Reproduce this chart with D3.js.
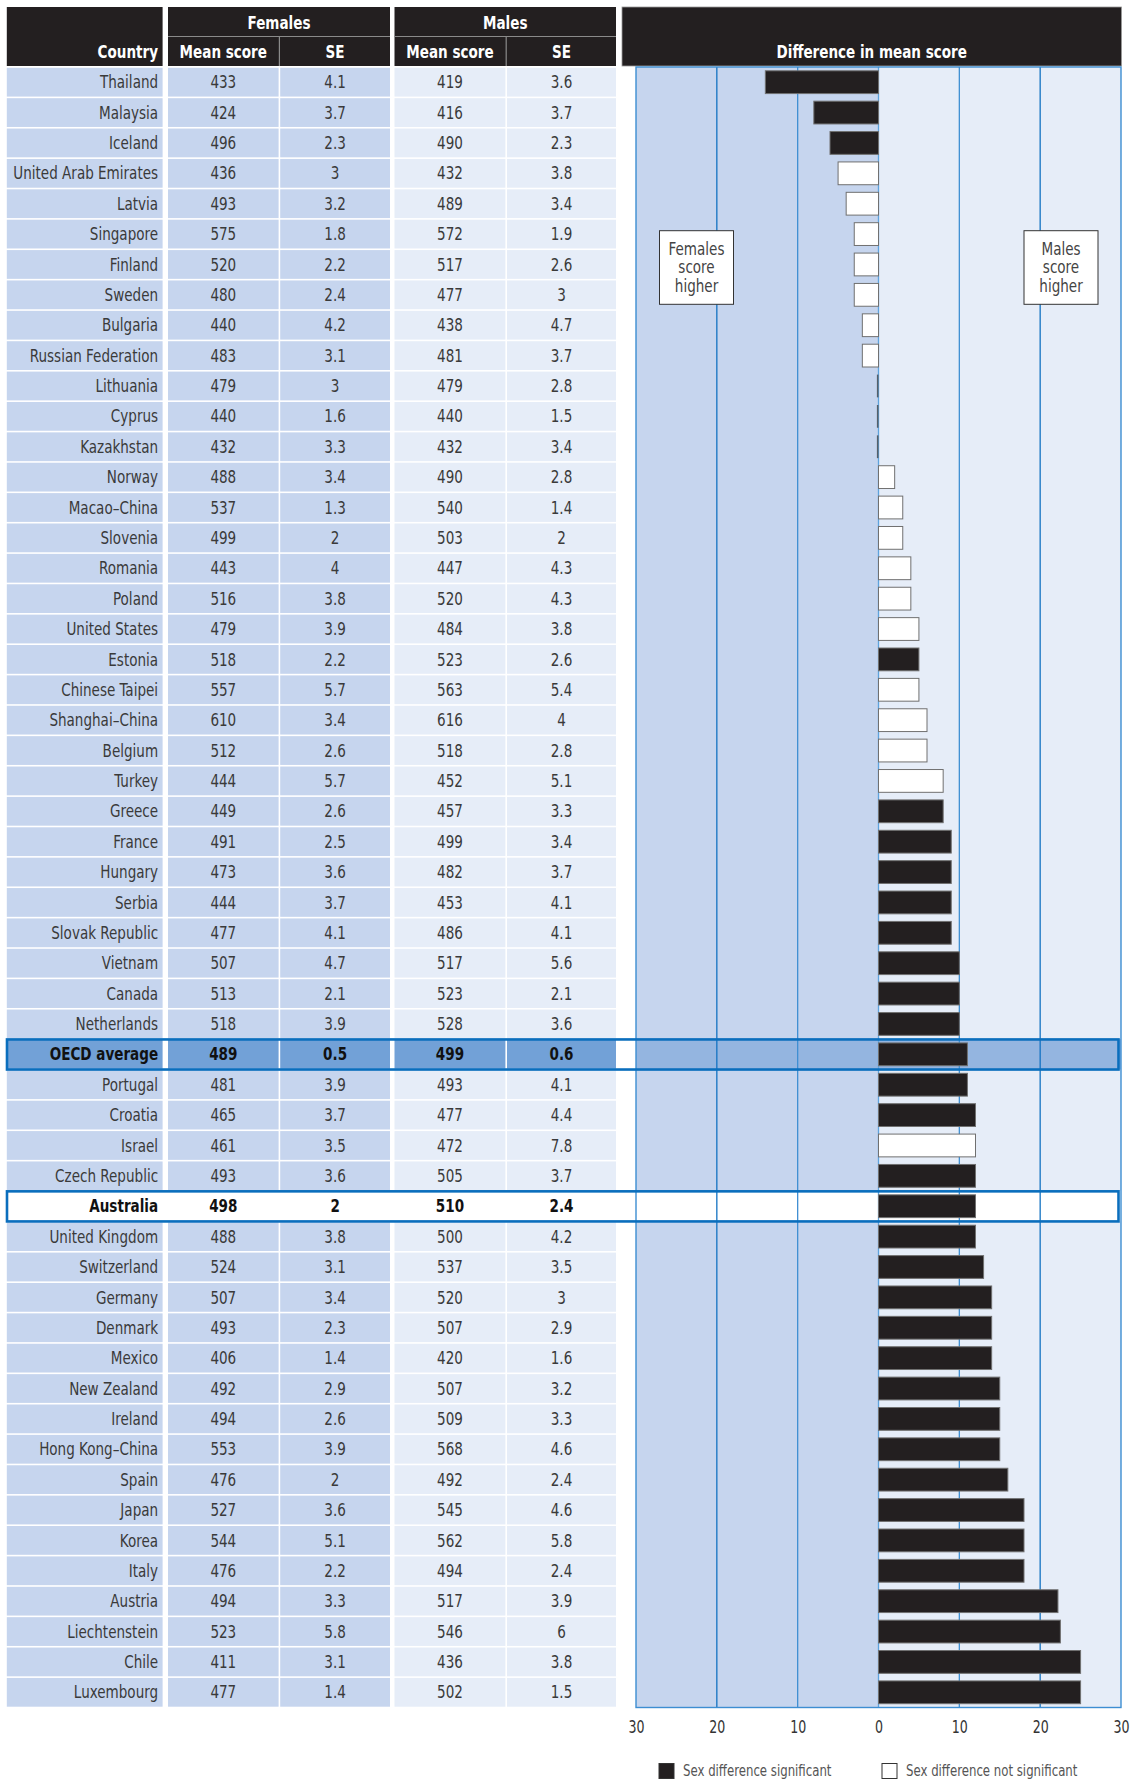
<!DOCTYPE html>
<html>
<head>
<meta charset="utf-8">
<script src="https://cdn.jsdelivr.net/npm/d3@7"></script>
<style>
  html, body { margin: 0; padding: 0; background: #ffffff; }
  svg { display: block; }
  text { font-family: "DejaVu Sans Condensed", "DejaVu Sans", sans-serif; }
</style>
</head>
<body>
<svg id="chart" width="1130" height="1782"></svg>
<script>
// ---------------- DATA ----------------
const countries = ["Thailand","Malaysia","Iceland","United Arab Emirates","Latvia","Singapore","Finland","Sweden","Bulgaria","Russian Federation","Lithuania","Cyprus","Kazakhstan","Norway","Macao\u2013China","Slovenia","Romania","Poland","United States","Estonia","Chinese Taipei","Shanghai\u2013China","Belgium","Turkey","Greece","France","Hungary","Serbia","Slovak Republic","Vietnam","Canada","Netherlands","OECD average","Portugal","Croatia","Israel","Czech Republic","Australia","United Kingdom","Switzerland","Germany","Denmark","Mexico","New Zealand","Ireland","Hong Kong\u2013China","Spain","Japan","Korea","Italy","Austria","Liechtenstein","Chile","Luxembourg"];
const femaleMean = [433,424,496,436,493,575,520,480,440,483,479,440,432,488,537,499,443,516,479,518,557,610,512,444,449,491,473,444,477,507,513,518,489,481,465,461,493,498,488,524,507,493,406,492,494,553,476,527,544,476,494,523,411,477];
const femaleSE   = ["4.1","3.7","2.3","3","3.2","1.8","2.2","2.4","4.2","3.1","3","1.6","3.3","3.4","1.3","2","4","3.8","3.9","2.2","5.7","3.4","2.6","5.7","2.6","2.5","3.6","3.7","4.1","4.7","2.1","3.9","0.5","3.9","3.7","3.5","3.6","2","3.8","3.1","3.4","2.3","1.4","2.9","2.6","3.9","2","3.6","5.1","2.2","3.3","5.8","3.1","1.4"];
const maleMean   = [419,416,490,432,489,572,517,477,438,481,479,440,432,490,540,503,447,520,484,523,563,616,518,452,457,499,482,453,486,517,523,528,499,493,477,472,505,510,500,537,520,507,420,507,509,568,492,545,562,494,517,546,436,502];
const maleSE     = ["3.6","3.7","2.3","3.8","3.4","1.9","2.6","3","4.7","3.7","2.8","1.5","3.4","2.8","1.4","2","4.3","4.3","3.8","2.6","5.4","4","2.8","5.1","3.3","3.4","3.7","4.1","4.1","5.6","2.1","3.6","0.6","4.1","4.4","7.8","3.7","2.4","4.2","3.5","3","2.9","1.6","3.2","3.3","4.6","2.4","4.6","5.8","2.4","3.9","6","3.8","1.5"];
// difference in mean score (males minus females)
const difference = [-14,-8,-6,-5,-4,-3,-3,-3,-2,-2,0,0,0,2,3,3,4,4,5,5,5,6,6,8,8,9,9,9,9,10,10,10,11,11,12,12,12,12,12,13,14,14,14,15,15,15,16,18,18,18,22.2,22.5,25,25];
// 1 = sex difference significant, 0 = not significant
const significant = [1,1,1,0,0,0,0,0,0,0,0,0,0,0,0,0,0,0,0,1,0,0,0,0,1,1,1,1,1,1,1,1,1,1,1,0,1,1,1,1,1,1,1,1,1,1,1,1,1,1,1,1,1,1];
const axisTicks = [-30,-20,-10,0,10,20,30];
const gridTicks = [-20,-10,10,20];
const oecdRow = "OECD average";
const focusRow = "Australia";
const headerGroups = ["Females","Males"];
const subHeaders = ["Mean score","SE"];
const diffTitle = "Difference in mean score";
const countryTitle = "Country";
const annotations = [{label:["Females","score","higher"], side:-1},{label:["Males","score","higher"], side:1}];
const legendItems = [{label:"Sex difference significant", sig:1},{label:"Sex difference not significant", sig:0}];

// ---------------- LAYOUT ----------------
const svg = d3.select("#chart");
const rows = countries.map((c,i)=>({country:c, fm:femaleMean[i], fse:femaleSE[i], mm:maleMean[i], mse:maleSE[i], diff:difference[i], sig:significant[i]}));

const plotTop = 67, plotBottom = 1707.5;
const y = d3.scaleBand().domain(countries).range([plotTop, plotBottom]).paddingInner(0).paddingOuter(0);
const x = d3.scaleLinear().domain([-30,30]).range([636, 1121]);
const bw = y.bandwidth();

const SX = 0.86;   // horizontal condensing of the text face
const FS = 17.5;
const DARK = "#231f20";
const LIGHT1 = "#c6d5ee";
const LIGHT2 = "#e6edf8";
const OECD_CELL = "#72a1d7";
const OECD_PLOT = "#94b5e0";
const TXT = "#3a3a3a";

function addText(sel, tx, ty, str, o) {
  o = o || {};
  return sel.append("text")
    .attr("transform", `translate(${tx},${ty}) scale(${o.sx || SX},1)`)
    .attr("dy","0.35em")
    .attr("text-anchor", o.anchor || "middle")
    .attr("font-size", o.size || FS)
    .attr("font-weight", o.bold ? "bold" : "normal")
    .attr("fill", o.fill || TXT)
    .text(str);
}

const cols = [
  {x0:6.8,  x1:162.6, fill:LIGHT1, key:"country", align:"end"},
  {x0:168,  x1:278.6, fill:LIGHT1, key:"fm"},
  {x0:280.2,x1:390,   fill:LIGHT1, key:"fse"},
  {x0:394.5,x1:505.4, fill:LIGHT2, key:"mm"},
  {x0:507,  x1:616,   fill:LIGHT2, key:"mse"}
];

// ---------------- HEADER ----------------
const hTop = 7, hMid = 36.5, hBot = 66;
const header = svg.append("g");
header.append("rect").attr("x",6.8).attr("y",hTop).attr("width",162.6-6.8).attr("height",hBot-hTop).attr("fill",DARK);
addText(header, 158, 52, countryTitle, {anchor:"end", bold:true, fill:"#fff"});
const groupSpans = [[168,390],[394.5,616]];
headerGroups.forEach((g,gi)=>{
  const [a,b] = groupSpans[gi];
  header.append("rect").attr("x",a).attr("y",hTop).attr("width",b-a).attr("height",hBot-hTop).attr("fill",DARK);
  header.append("line").attr("x1",a).attr("x2",b).attr("y1",hMid).attr("y2",hMid).attr("stroke","#8a8a8a").attr("stroke-width",1.2);
  const mid = gi===0 ? 279.4 : 506.2;
  header.append("line").attr("x1",mid).attr("x2",mid).attr("y1",hMid).attr("y2",hBot).attr("stroke","#8a8a8a").attr("stroke-width",1.2);
  addText(header, (a+b)/2, 22.5, g, {bold:true, fill:"#fff"});
  subHeaders.forEach((s,si)=>{
    const c = cols[1+gi*2+si];
    addText(header, (c.x0+c.x1)/2, 52, s, {bold:true, fill:"#fff"});
  });
});
header.append("rect").attr("x",622).attr("y",hTop).attr("width",1121.5-622).attr("height",hBot-hTop).attr("fill",DARK)
  .attr("stroke","#9a9a9a").attr("stroke-width",0.8);
addText(header, (622+1121.5)/2, 52, diffTitle, {bold:true, fill:"#fff"});

// ---------------- TABLE ----------------
const table = svg.append("g");
rows.forEach(r=>{
  const y0 = y(r.country);
  const isO = r.country===oecdRow, isA = r.country===focusRow;
  cols.forEach(c=>{
    table.append("rect").attr("x",c.x0).attr("y",y0+0.8).attr("width",c.x1-c.x0).attr("height",bw-1.6)
      .attr("fill", isO ? OECD_CELL : (isA ? "#ffffff" : c.fill));
    const tx = c.align==="end" ? c.x1-4.5 : (c.x0+c.x1)/2;
    addText(table, tx, y0+bw/2, r[c.key], {
      anchor: c.align==="end" ? "end" : "middle",
      bold: isO||isA,
      fill: (isO||isA) ? "#111" : TXT
    });
  });
});

// ---------------- PLOT ----------------
const plot = svg.append("g");
plot.append("rect").attr("x",x(-30)).attr("y",plotTop).attr("width",x(0)-x(-30)).attr("height",plotBottom-plotTop).attr("fill",LIGHT1);
plot.append("rect").attr("x",x(0)).attr("y",plotTop).attr("width",x(30)-x(0)).attr("height",plotBottom-plotTop).attr("fill",LIGHT2);
plot.append("rect").attr("x",x(-30)).attr("y",y(oecdRow)).attr("width",x(30)-x(-30)).attr("height",bw).attr("fill",OECD_PLOT);
plot.append("rect").attr("x",x(-30)).attr("y",y(focusRow)).attr("width",x(30)-x(-30)).attr("height",bw).attr("fill","#ffffff");

plot.selectAll("line.grid").data(gridTicks).enter().append("line")
  .attr("x1",d=>x(d)).attr("x2",d=>x(d)).attr("y1",plotTop).attr("y2",plotBottom)
  .attr("stroke",d=>Math.abs(d)===20 ? "#1372c2" : "#3f8fd3").attr("stroke-width",1.3);
plot.append("line").attr("x1",x(0)).attr("x2",x(0)).attr("y1",plotTop).attr("y2",plotBottom).attr("stroke","#5ea3dd").attr("stroke-width",1.3);
plot.append("rect").attr("x",x(-30)).attr("y",plotTop).attr("width",x(30)-x(-30)).attr("height",plotBottom-plotTop)
  .attr("fill","none").attr("stroke","#3d8ed2").attr("stroke-width",1.4);

annotations.forEach(a=>{
  const cx = a.side<0 ? 696.5 : 1061;
  const g = plot.append("g");
  g.append("rect").attr("x",cx-37).attr("y",230.7).attr("width",74).attr("height",73.6)
    .attr("fill","#fff").attr("stroke","#333").attr("stroke-width",1);
  a.label.forEach((t,i)=>{
    addText(g, cx, 248.5+i*18.7, t, {fill:"#444"});
  });
});

const barH = bw*0.75;
const bars = plot.append("g");
bars.selectAll("rect.bar").data(rows.filter(r=>r.diff!==0)).enter().append("rect")
  .attr("x",d=>x(Math.min(0,d.diff)))
  .attr("y",d=>y(d.country)+(bw-barH)/2)
  .attr("width",d=>Math.abs(x(d.diff)-x(0)))
  .attr("height",barH)
  .attr("fill",d=>d.sig ? DARK : "#ffffff")
  .attr("stroke","#707070").attr("stroke-width",1);
bars.selectAll("line.zero").data(rows.filter(r=>r.diff===0)).enter().append("line")
  .attr("x1",d=>x(d.diff)-0.8).attr("x2",d=>x(d.diff)-0.8)
  .attr("y1",d=>y(d.country)+(bw-barH)/2).attr("y2",d=>y(d.country)+(bw+barH)/2)
  .attr("stroke","#55606a").attr("stroke-width",1.6);

[oecdRow, focusRow].forEach(r=>{
  svg.append("rect").attr("x",7).attr("y",y(r)+0.3).attr("width",1118.5-7).attr("height",bw-0.3)
    .attr("fill","none").attr("stroke","#0a6ebd").attr("stroke-width",2.6);
});

// axis
const axis = d3.axisBottom(x).tickValues(axisTicks).tickFormat(d=>Math.abs(d)).tickSize(0).tickPadding(0);
const ax = svg.append("g").attr("transform",`translate(0,${1726.5})`).call(axis);
ax.select(".domain").remove();
ax.selectAll("text").attr("font-size",FS).attr("fill","#333")
  .attr("font-family","'DejaVu Sans Condensed','DejaVu Sans',sans-serif")
  .attr("y",0).attr("dy","0.35em").attr("transform",`scale(0.8,1)`);

// legend
const lg = svg.append("g");
const legendX = [659, 882];
legendItems.forEach((it,i)=>{
  lg.append("rect").attr("x",legendX[i]).attr("y",1763.5).attr("width",15).attr("height",15)
    .attr("fill",it.sig ? DARK : "#fff").attr("stroke","#333").attr("stroke-width",1);
  addText(lg, legendX[i]+24, 1771, it.label, {anchor:"start", size:15.2, fill:"#555"});
});
</script>
</body>
</html>
